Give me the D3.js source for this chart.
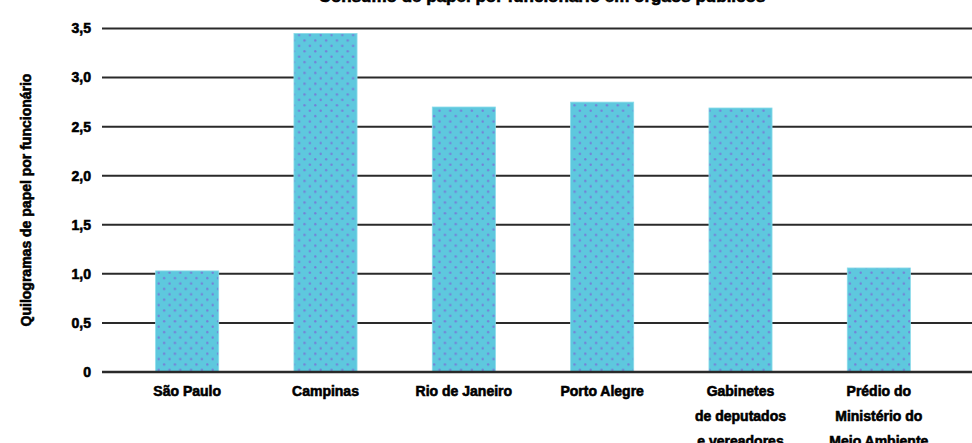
<!DOCTYPE html>
<html>
<head>
<meta charset="utf-8">
<script src="https://cdn.jsdelivr.net/npm/d3@7/dist/d3.min.js"></script>
<style>
  html, body { margin: 0; padding: 0; background: #fff; }
  svg { display: block; }
  text { font-family: "Liberation Sans", Arial, sans-serif; font-weight: 900; fill: #000; stroke: #000; stroke-width: 0.6px; }
</style>
</head>
<body>
<svg id="chart" width="972" height="443"></svg>
<script>
// Paper consumption per employee, by location
const categories = [
  ["São Paulo"],
  ["Campinas"],
  ["Rio de Janeiro"],
  ["Porto Alegre"],
  ["Gabinetes", "de deputados", "e vereadores"],
  ["Prédio do", "Ministério do", "Meio Ambiente"]
];
const values = [1.03, 3.45, 2.70, 2.75, 2.69, 1.06];
const yTicks = [0, 0.5, 1.0, 1.5, 2.0, 2.5, 3.0, 3.5];
const yTickLabels = ["0", "0,5", "1,0", "1,5", "2,0", "2,5", "3,0", "3,5"];
const titleText = "Consumo de papel por funcionário em órgãos públicos";
const yLabel = "Quilogramas de papel por funcionário";

const svg = d3.select("#chart");
const W = 972;

const x = d3.scaleBand()
  .domain(d3.range(categories.length))
  .range([118, 948])
  .paddingInner(0.544)
  .paddingOuter(0.272);

const y = d3.scaleLinear().domain([0, 3.5]).range([372, 28.5]);

// dotted fill for the bars
const defs = svg.append("defs");
const pat = defs.append("pattern")
  .attr("id", "dots")
  .attr("patternUnits", "userSpaceOnUse")
  .attr("width", 10.8).attr("height", 10.8)
  .attr("x", 156).attr("y", 270);
pat.append("rect").attr("width", 10.8).attr("height", 10.8).attr("fill", "#5ec8de");
pat.append("circle").attr("cx", 2.7).attr("cy", 2.7).attr("r", 1.2).attr("fill", "#7480d8");
pat.append("circle").attr("cx", 8.1).attr("cy", 8.1).attr("r", 1.2).attr("fill", "#7480d8");

// title (runs off the top edge)
svg.append("text")
  .attr("x", 542).attr("y", 2)
  .attr("text-anchor", "middle")
  .attr("font-size", 17)
  .text(titleText);

// horizontal grid lines
svg.append("g").selectAll("line")
  .data(yTicks)
  .join("line")
  .attr("x1", 102).attr("x2", W)
  .attr("y1", d => y(d)).attr("y2", d => y(d))
  .attr("stroke", "#2a2a2a")
  .attr("stroke-width", 2);

// y tick labels
svg.append("g").selectAll("text")
  .data(yTicks)
  .join("text")
  .attr("x", 91)
  .attr("y", d => y(d))
  .attr("dy", "0.35em")
  .attr("text-anchor", "end")
  .attr("font-size", 14)
  .text((d, i) => yTickLabels[i]);

// y axis title
svg.append("text")
  .attr("transform", "translate(31,200) rotate(-90)")
  .attr("text-anchor", "middle")
  .attr("font-size", 14)
  .text(yLabel);

// bars
svg.append("g").selectAll("rect")
  .data(values)
  .join("rect")
  .attr("x", (d, i) => x(i))
  .attr("width", x.bandwidth())
  .attr("y", d => y(d))
  .attr("height", d => y(0) - y(d))
  .attr("fill", "url(#dots)")
  .attr("stroke", "#8adbe9")
  .attr("stroke-width", 0.8);

// baseline over bar bottoms
svg.append("line")
  .attr("x1", 102).attr("x2", W)
  .attr("y1", y(0)).attr("y2", y(0))
  .attr("stroke", "#2a2a2a").attr("stroke-width", 2.5);

// category labels
const lab = svg.append("g").selectAll("text")
  .data(categories)
  .join("text")
  .attr("text-anchor", "middle")
  .attr("font-size", 14)
  .attr("x", (d, i) => x(i) + x.bandwidth() / 2)
  .attr("y", 396);
lab.selectAll("tspan")
  .data(d => d)
  .join("tspan")
  .attr("x", function () { return d3.select(this.parentNode).attr("x"); })
  .attr("dy", (d, i) => i === 0 ? 0 : 25)
  .text(d => d);
</script>
</body>
</html>
